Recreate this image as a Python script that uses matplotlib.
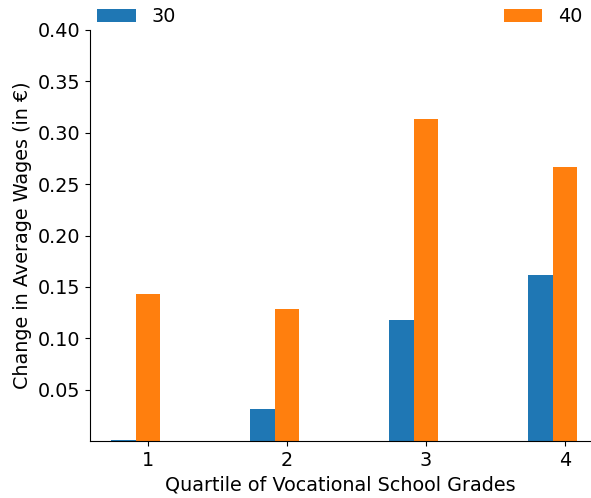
import numpy as np
import matplotlib
matplotlib.use('Agg')
from matplotlib import pyplot as plt

# quartiles and wage changes per group
quartiles = [1, 2, 3, 4]
wage_30 = [0.001, 0.031, 0.118, 0.162]
wage_40 = [0.143, 0.129, 0.313, 0.267]
series_labels = ['30', '40']

plt.rcParams['font.size'] = 13.8
fig, ax = plt.subplots(figsize=(5.91, 4.98), dpi=100)
x = np.array(quartiles)
w = 0.175
ax.bar(x - w, wage_30, width=w, color='#1f77b4', label=series_labels[0])
ax.bar(x, wage_40, width=w, color='#ff7f0e', label=series_labels[1])

ax.set_xlim(0.583, 4.18)
ax.set_ylim(0, 0.40)
ax.set_xticks(quartiles)
ax.set_yticks([0.05, 0.10, 0.15, 0.20, 0.25, 0.30, 0.35, 0.40])
ax.set_xlabel('Quartile of Vocational School Grades')
ax.set_ylabel('Change in Average Wages (in €)')
ax.spines['top'].set_visible(False)
ax.spines['right'].set_visible(False)
ax.legend(loc='lower left', bbox_to_anchor=(0, 0.99, 1, 0.1), mode='expand',
          ncol=2, frameon=False, borderaxespad=0)

fig.subplots_adjust(left=0.152, right=0.998, bottom=0.114, top=0.94)
fig.savefig('out.png')
